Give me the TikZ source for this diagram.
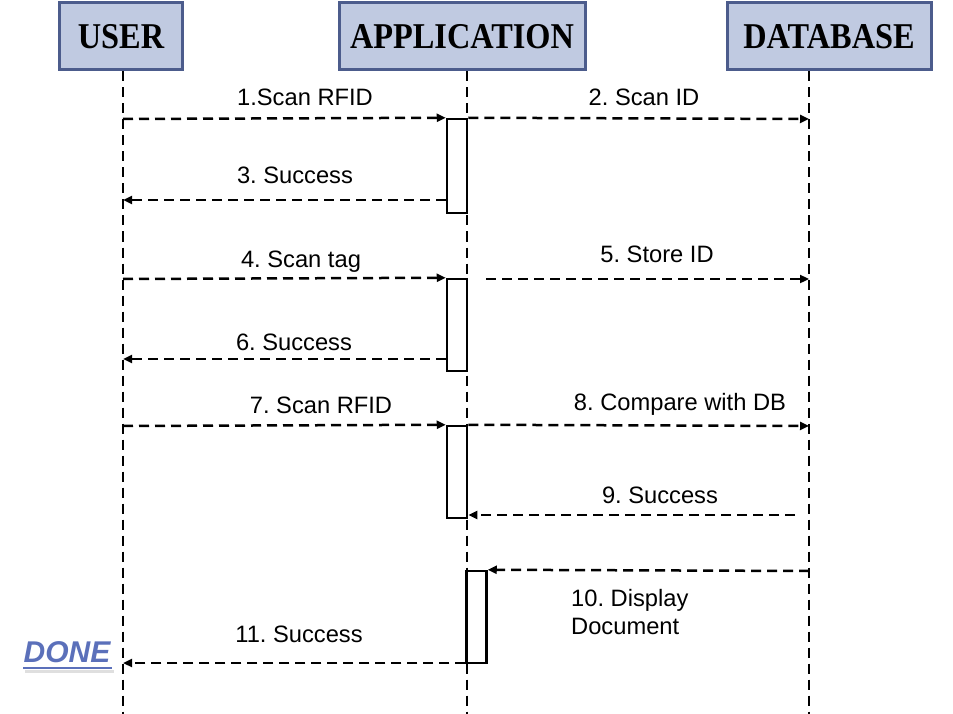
\documentclass[tikz,border=0pt]{standalone}
\usepackage{fontspec}
\setmainfont{Liberation Sans}
\newfontfamily\headfont{Liberation Serif}
\usetikzlibrary{arrows.meta}
\definecolor{boxfill}{HTML}{C0CAE1}
\definecolor{boxline}{HTML}{4C5C8C}
\definecolor{doneblue}{HTML}{5B70BA}
\tikzset{
  actor/.style={draw=boxline, fill=boxfill, line width=3pt, minimum height=67pt, inner sep=0pt,
    font=\headfont\bfseries\fontsize{33}{36}\selectfont},
  life/.style={line width=2.5pt, dash pattern=on 10pt off 6pt},
  msg/.style={line width=2.5pt, dash pattern=on 10pt off 6pt, -{Triangle[length=9pt,width=8pt]}},
  actbox/.style={draw, fill=white, line width=2.5pt, minimum width=20pt, inner sep=0pt},
  lbl/.style={font=\frenchspacing\fontsize{23.7}{28}\selectfont, inner sep=0pt},
}
\begin{document}
\frenchspacing
\begin{tikzpicture}[x=1pt,y=-1pt]
\useasboundingbox (0,0) rectangle (953,714);
% actors
\node[actor, minimum width=123pt] (user) at (121,36.5) {\scalebox{0.98}[1.1]{USER}};
\node[actor, minimum width=246pt] (app) at (462,36.5) {\scalebox{0.98}[1.1]{APPLICATION}};
\node[actor, minimum width=204pt] (db) at (829,36.5) {\scalebox{0.98}[1.1]{DATABASE}};
% lifeline ends
\coordinate (uend) at (123,714);
\coordinate (aend) at (467,714);
\coordinate (dend) at (809,714);
\draw[life] (user.south -| uend) -- (uend);
\draw[life] (app.south -| aend) -- (aend);
\draw[life] (db.south -| dend) -- (dend);
% activation boxes
\node[actbox, minimum height=94pt] (b1) at (457,166) {};
\node[actbox, minimum height=92pt] (b2) at (457,325) {};
\node[actbox, minimum height=92pt] (b3) at (457,472) {};
\node[actbox, minimum height=92pt] (b4) at (476.5,617) {};
% endpoints on lifelines
\coordinate (u1) at (123,119);
\coordinate (d2) at (809,119);
\coordinate (u3) at (123,200);
\coordinate (u4) at (123,279);
\coordinate (a5) at (486,279);
\coordinate (d5) at (809,279);
\coordinate (u6) at (123,359);
\coordinate (u7) at (123,426);
\coordinate (d8) at (809,426);
\coordinate (d9) at (795,515);
\coordinate (d10) at (809,571);
\coordinate (u11) at (123,663);
% messages
\draw[msg] (u1) -- (b1.north west);
\draw[msg] (b1.north east) -- (d2);
\draw[msg] (b1.west |- u3) -- (u3);
\draw[msg] (u4) -- (b2.north west);
\draw[msg] (a5) -- (d5);
\draw[msg] (b2.west |- u6) -- (u6);
\draw[msg] (u7) -- (b3.north west);
\draw[msg] (b3.north east) -- (d8);
\draw[msg] (d9) -- (b3.east |- d9);
\draw[msg] (d10) -- (b4.north east);
\draw[msg] (b4.west |- u11) -- (u11);
% labels
\node[lbl] (l1) at (305,97) {1.Scan RFID};
\node[lbl] (l2) at (644,97) {2. Scan ID};
\node[lbl] (l3) at (295,175) {3. Success};
\node[lbl] (l4) at (301,262) {4. Scan tag};
\node[lbl] (l5) at (657,254) {5. Store ID};
\node[lbl] (l6) at (294,342) {6. Success};
\node[lbl] (l7) at (321,405) {7. Scan RFID};
\node[lbl] (l8) at (680,404) {8. Compare with DB};
\node[lbl] (l9) at (660,495) {9. Success};
\node[lbl, align=left, anchor=west] (l10) at (571,612) {10. Display\\Document};
\node[lbl] (l11) at (299,634) {11. Success};
% DONE
\draw[gray!25, line width=3pt] (25,671) -- (114,671);
\node[font=\bfseries\itshape\fontsize{30}{32}\selectfont, text=doneblue, inner sep=0pt] (done) at (67,652) {DONE};
\draw[doneblue, line width=2.5pt] (23,668) -- (112,668);
\end{tikzpicture}
\end{document}
